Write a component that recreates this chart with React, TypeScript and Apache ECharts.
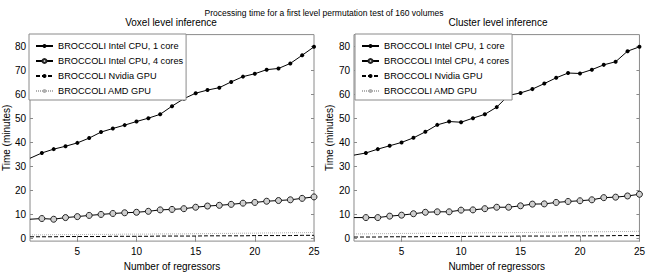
import React, { useEffect, useRef } from "react";
import * as echarts from "echarts";

const regressors = [1, 2, 3, 4, 5, 6, 7, 8, 9, 10, 11, 12, 13, 14, 15, 16, 17, 18, 19, 20, 21, 22, 23, 24, 25];
const xTicks = [5, 10, 15, 20, 25];
const yTicks = [0, 10, 20, 30, 40, 50, 60, 70, 80];

const seriesNames = [
  "BROCCOLI Intel CPU, 1 core",
  "BROCCOLI Intel CPU, 4 cores",
  "BROCCOLI Nvidia GPU",
  "BROCCOLI AMD GPU",
];

const voxelCpu1 = [33.5, 35.7, 37.3, 38.5, 39.9, 41.9, 44.4, 45.9, 47.3, 48.8, 50.2, 51.8, 55.2, 58.3, 60.6, 61.9, 62.9, 65.3, 67.5, 68.7, 70.4, 70.9, 73.0, 76.4, 79.9];
const voxelCpu4 = [8.1, 8.4, 8.1, 8.8, 9.2, 9.7, 10.1, 10.5, 10.8, 11.0, 11.4, 12.0, 12.2, 12.5, 13.1, 13.6, 13.9, 14.3, 14.8, 15.1, 15.6, 15.9, 16.2, 16.8, 17.4];
const voxelNvidia = [0.8, 0.8, 0.8, 0.9, 0.9, 0.9, 0.9, 1.0, 1.0, 1.0, 1.0, 1.1, 1.1, 1.1, 1.1, 1.2, 1.2, 1.2, 1.2, 1.3, 1.3, 1.3, 1.3, 1.4, 1.4];
const voxelAmd = [1.6, 1.6, 1.7, 1.7, 1.7, 1.8, 1.8, 1.8, 1.9, 1.9, 1.9, 2.0, 2.0, 2.0, 2.1, 2.1, 2.2, 2.2, 2.3, 2.3, 2.4, 2.4, 2.5, 2.5, 2.6];

const clusterCpu1 = [34.8, 35.7, 37.3, 38.7, 40.1, 42.0, 44.5, 47.4, 48.8, 48.5, 50.2, 51.8, 54.8, 59.7, 60.7, 62.3, 64.6, 67.0, 69.0, 68.8, 70.4, 72.4, 73.7, 78.1, 79.9];
const clusterCpu4 = [8.8, 8.8, 8.8, 9.4, 9.8, 10.4, 11.0, 11.2, 11.2, 11.9, 12.0, 12.5, 13.1, 13.1, 13.7, 14.4, 14.5, 15.1, 15.5, 15.8, 16.2, 17.1, 17.3, 17.8, 18.5];
const clusterNvidia = [0.7, 0.7, 0.7, 0.8, 0.8, 0.8, 0.9, 0.9, 0.9, 0.9, 1.0, 1.0, 1.0, 1.0, 1.1, 1.1, 1.1, 1.1, 1.2, 1.2, 1.2, 1.2, 1.3, 1.3, 1.3];
const clusterAmd = [2.0, 2.0, 2.1, 2.1, 2.2, 2.2, 2.3, 2.3, 2.4, 2.4, 2.4, 2.5, 2.5, 2.5, 2.6, 2.6, 2.7, 2.7, 2.8, 2.8, 2.9, 2.9, 3.0, 3.0, 3.1];

const mainTitle = "Processing time for a first level permutation test of 160 volumes";
const panelTitles = ["Voxel level inference", "Cluster level inference"];
const xName = "Number of regressors";
const yName = "Time (minutes)";

const FONT = "Liberation Sans";
const BOX = "#8a8a8a";

function pairs(vals: number[], hideFirstMarker: boolean) {
  return regressors.map((x, i) =>
    hideFirstMarker && i === 0 ? { value: [x, vals[i]], symbol: "none" } : { value: [x, vals[i]] }
  );
}

export default function App() {
  const ref = useRef<HTMLDivElement>(null);
  useEffect(() => {
    if (!ref.current) return;
    const chart = echarts.init(ref.current, null, { renderer: "svg" });

    const grids = [
      { left: 28.4, top: 34.6, width: 285.6, height: 212.9, show: true, borderColor: BOX, borderWidth: 1, backgroundColor: "#fff" },
      { left: 354, top: 34.6, width: 288, height: 212.9, show: true, borderColor: BOX, borderWidth: 1, backgroundColor: "#fff" },
    ];

    const xAxes: any[] = [];
    const yAxes: any[] = [];
    [0, 1].forEach((g) => {
      xAxes.push({
        type: "value", gridIndex: g, min: 1, max: 25, position: "bottom",
        name: xName, nameLocation: "middle", nameGap: 14,
        nameTextStyle: { color: "#000", fontSize: 10, fontFamily: FONT },
        axisLine: { show: false },
        axisTick: { show: true, inside: true, length: 3, lineStyle: { color: BOX }, customValues: xTicks },
        axisLabel: { color: "#000", fontSize: 10, fontFamily: FONT, margin: 5, customValues: xTicks },
        splitLine: { show: false },
      });
      xAxes.push({
        type: "value", gridIndex: g, min: 1, max: 25, position: "top",
        axisLine: { show: false },
        axisTick: { show: true, inside: true, length: 3, lineStyle: { color: BOX }, customValues: xTicks },
        axisLabel: { show: false },
        splitLine: { show: false },
      });
      yAxes.push({
        type: "value", gridIndex: g, min: -1, max: 85, position: "left",
        name: yName, nameLocation: "middle", nameGap: 17,
        nameTextStyle: { color: "#000", fontSize: 10, fontFamily: FONT },
        axisLine: { show: false },
        axisTick: { show: true, inside: true, length: 3, lineStyle: { color: BOX }, customValues: yTicks },
        axisLabel: { color: "#000", fontSize: 10, fontFamily: FONT, margin: 4, customValues: yTicks },
        splitLine: { show: false },
      });
      yAxes.push({
        type: "value", gridIndex: g, min: -1, max: 85, position: "right",
        axisLine: { show: false },
        axisTick: { show: true, inside: true, length: 3, lineStyle: { color: BOX }, customValues: yTicks },
        axisLabel: { show: false },
        splitLine: { show: false },
      });
    });

    const panels = [
      [voxelCpu1, voxelCpu4, voxelNvidia, voxelAmd],
      [clusterCpu1, clusterCpu4, clusterNvidia, clusterAmd],
    ];

    const series: any[] = [];
    panels.forEach((p, g) => {
      const xi = g * 2;
      const yi = g * 2;
      series.push({
        type: "line", name: seriesNames[0], xAxisIndex: xi, yAxisIndex: yi,
        data: pairs(p[0], true), symbol: "circle", symbolSize: 4, showSymbol: true,
        itemStyle: { color: "#000" }, lineStyle: { color: "#000", width: 1 }, z: 4,
      });
      series.push({
        type: "line", name: seriesNames[1], xAxisIndex: xi, yAxisIndex: yi,
        data: pairs(p[1], true), symbol: "circle", symbolSize: 6, showSymbol: true,
        itemStyle: { color: "#cfcfcf", borderColor: "#222", borderWidth: 1 },
        lineStyle: { color: "#000", width: 1 }, z: 3,
      });
      series.push({
        type: "line", name: seriesNames[2], xAxisIndex: xi, yAxisIndex: yi,
        data: pairs(p[2], false), symbol: "none",
        itemStyle: { color: "#000" }, lineStyle: { color: "#000", width: 1, type: [4, 2] }, z: 2,
      });
      series.push({
        type: "line", name: seriesNames[3], xAxisIndex: xi, yAxisIndex: yi,
        data: pairs(p[3], false), symbol: "none",
        itemStyle: { color: "#b0b0b0" }, lineStyle: { color: "#b0b0b0", width: 1, type: [1, 1] }, z: 1,
      });
    });

    const legendBase = {
      orient: "vertical", top: 34, itemWidth: 17, itemHeight: 5, itemGap: 3,
      padding: [6, 3, 3, 6], backgroundColor: "#fff", borderColor: BOX, borderWidth: 1,
      textStyle: { color: "#000", fontSize: 9.2, fontFamily: FONT, lineHeight: 12 },
      data: seriesNames, selectedMode: false, z: 10,
    };

    chart.setOption({
      animation: false,
      textStyle: { fontFamily: FONT },
      title: {
        text: mainTitle, left: "center", top: 3,
        textStyle: { color: "#000", fontSize: 8.5, fontWeight: "normal", fontFamily: FONT },
      },
      graphic: [
        { type: "text", x: 171, y: 22, style: { text: panelTitles[0], textAlign: "center", textVerticalAlign: "middle", fill: "#000", font: `10px ${FONT}` } },
        { type: "text", x: 498, y: 22, style: { text: panelTitles[1], textAlign: "center", textVerticalAlign: "middle", fill: "#000", font: `10px ${FONT}` } },
      ],
      grid: grids,
      xAxis: xAxes,
      yAxis: yAxes,
      legend: [
        { ...legendBase, left: 29 },
        { ...legendBase, left: 355 },
      ],
      series,
    });
    return () => chart.dispose();
  }, []);
  return <div ref={ref} style={{ position: "absolute", left: 0, top: 0, width: 648, height: 276 }} />;
}
